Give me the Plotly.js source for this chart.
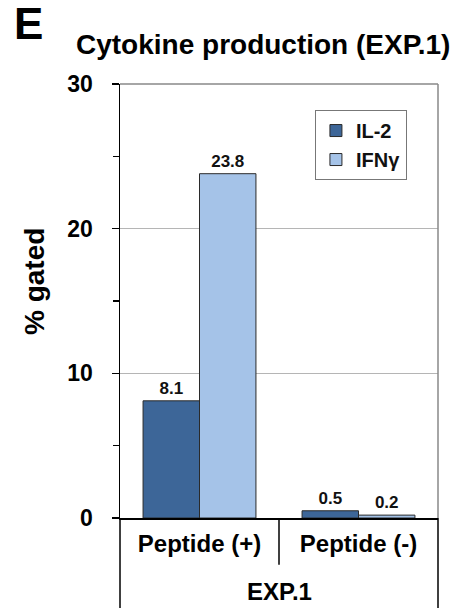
<!DOCTYPE html>
<html>
<head>
<meta charset="utf-8">
<script src="https://cdn.plot.ly/plotly-3.0.1.min.js"></script>
<style>html,body{margin:0;padding:0;background:#fff;}#chart{width:469px;height:608px;}</style>
</head>
<body>
<div id="chart"></div>
<script>
const groupLabel = "EXP.1";
const categories = ["Peptide (+)", "Peptide (-)"];
const il2 = [8.1, 0.5];
const ifng = [23.8, 0.2];
const seriesNames = ["IL-2", "IFNγ"];
const yTicks = [0, 10, 20, 30];
const yMinorTicks = [5, 15, 25];

const F = "Liberation Sans, Arial, sans-serif";
const labelFont = {family: F, size: 17, color: "#111", weight: "bold"};

const traces = [
  {type: "bar", name: seriesNames[0], x: categories, y: il2,
   marker: {color: "#3d6698", line: {color: "#2a2a2a", width: 1}},
   text: il2.map(v => v.toFixed(1)), textposition: "outside", textfont: labelFont, cliponaxis: false},
  {type: "bar", name: seriesNames[1], x: categories, y: ifng,
   marker: {color: "#a5c3e8", line: {color: "#2a2a2a", width: 1}},
   text: ifng.map(v => v.toFixed(1)), textposition: "outside", textfont: labelFont, cliponaxis: false}
];

const layout = {
  width: 469, height: 608,
  margin: {l: 120, r: 31, t: 84, b: 90},
  paper_bgcolor: "#fff", plot_bgcolor: "#fff",
  barmode: "group", bargap: 0.29, bargroupgap: 0,
  showlegend: true,
  legend: {x: 0.613, y: 0.94, xanchor: "left", yanchor: "top",
           bordercolor: "#777", borderwidth: 1, bgcolor: "#fff",
           font: {family: F, size: 20, color: "#111", weight: "bold"},
           itemwidth: 30, tracegroupgap: 6},
  xaxis: {type: "category", showline: true, linecolor: "#000", linewidth: 1.5,
          ticks: "", showgrid: false, zeroline: false, ticklabelstandoff: 4,
          tickfont: {family: F, size: 24, color: "#000", weight: "bold"}},
  yaxis: {range: [0, 30], tickvals: yTicks, ticktext: yTicks.map(String),
          showline: true, linecolor: "#000", linewidth: 1.5,
          ticks: "outside", ticklen: 7, tickcolor: "#000", tickwidth: 1.5,
          minor: {tickvals: yMinorTicks, ticks: "outside", ticklen: 6, tickcolor: "#000", tickwidth: 1.5, showgrid: false},
          showgrid: true, gridcolor: "#b5b5b5", gridwidth: 1, zeroline: false,
          ticklabelstandoff: 14,
          tickfont: {family: F, size: 23, color: "#000", weight: "bold"}},
  yaxis2: {overlaying: "y", side: "left", range: [0, 30], tickvals: yMinorTicks,
           ticks: "inside", ticklen: 6, tickcolor: "#000", tickwidth: 1.5,
           showticklabels: false, showgrid: false, showline: false, zeroline: false},
  shapes: [
    {type: "line", xref: "paper", yref: "paper", x0: 0, x1: 1, y0: 1, y1: 1, line: {color: "#888", width: 1.5}},
    {type: "line", xref: "paper", yref: "paper", x0: 1, x1: 1, y0: 0, y1: 1, line: {color: "#888", width: 1.5}},
    {type: "line", xref: "paper", yref: "paper", x0: 0.5, x1: 0.5, y0: 0, y1: -0.108, line: {color: "#000", width: 1.5}},
    {type: "line", xref: "paper", yref: "paper", x0: 0, x1: 0, y0: 0, y1: -0.22, line: {color: "#000", width: 1.5}},
    {type: "line", xref: "paper", yref: "paper", x0: 1, x1: 1, y0: 0, y1: -0.22, line: {color: "#000", width: 1.5}}
  ],
  annotations: [
    {text: "E", xref: "paper", yref: "paper", x: -0.33, y: 1.131, xanchor: "left", yanchor: "middle",
     xshift: -3, yshift: 4,
     showarrow: false, font: {family: F, size: 44, color: "#000", weight: "bold"}},
    {text: "Cytokine production (EXP.1)", xref: "paper", yref: "paper", x: 0.5, y: 1.09, xanchor: "center", yanchor: "middle",
     showarrow: false, font: {family: F, size: 28, color: "#000", weight: "bold"}, xshift: -16},
    {text: groupLabel, xref: "paper", yref: "paper", x: 0.5, y: -0.17, xanchor: "center", yanchor: "middle",
     showarrow: false, font: {family: F, size: 24, color: "#000", weight: "bold"}},
    {text: "% gated", xref: "paper", yref: "paper", x: 0, y: 0.5, xanchor: "center", yanchor: "middle",
     xshift: -86, yshift: 19, textangle: -90,
     showarrow: false, font: {family: F, size: 28, color: "#000", weight: "bold"}}
  ]
};

Plotly.newPlot("chart", traces, layout, {displayModeBar: false, staticPlot: true});
</script>
</body>
</html>
